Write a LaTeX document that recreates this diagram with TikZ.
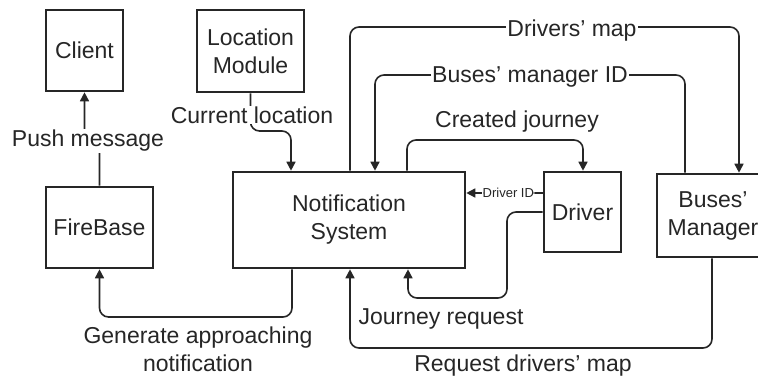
\documentclass[tikz,border=0pt]{standalone}
\usepackage{fontspec}
\setmainfont{Liberation Sans}
\usetikzlibrary{arrows.meta}
\tikzset{
  box/.style={draw, line width=2.6pt, align=center, inner sep=0pt},
  link/.style={line width=1.6pt, rounded corners=9pt},
  arr/.style={link, -{Triangle[length=9pt,width=9pt]}},
  lbl/.style={fill=white, inner sep=1pt, align=center},
  tiny/.style={fill=white, inner sep=0.5pt, font=\fontsize{13}{15}\selectfont},
}
\begin{document}
\begin{tikzpicture}[x=1pt, y=-1pt, color=black!85, font=\fontsize{23}{28}\selectfont]
  \useasboundingbox (0,0) rectangle (758,383);
  % boxes
  \node[box, minimum width=77, minimum height=81] (client) at (84.5,50.5) {Client};
  \node[box, minimum width=107, minimum height=82] (loc) at (250.5,51) {Location\\Module};
  \node[box, minimum width=107, minimum height=81] (fire) at (99.5,227.5) {FireBase};
  \node[box, minimum width=232, minimum height=96] (notif) at (349,220) {Notification\\System};
  \node[box, minimum width=77, minimum height=80] (driver) at (582.5,212) {Driver};
  \node[box, minimum width=112, minimum height=83] (mgr) at (713,215.5) {Buses'\\Manager};

  % connectors
  \draw[arr] (fire.north) -- (99.5,141) -- (84.5,141) -- (client.south);
  \node[lbl] (push) at (88,141) {Push message};

  \draw[arr] (loc.south) -- (250.5,131) -- (291,131) -- (notif.north -| 291,0);
  \node[lbl] (cur) at (252,115) {Current location};

  \draw[arr] (notif.north -| 350,0) -- (350,27) -- (739,27) -- (mgr.north -| 739,0);
  \node[lbl] (dmap) at (572,31) {Drivers' map};
  \draw[arr] (mgr.north -| 685,0) -- (685,75) -- (375,75) -- (notif.north -| 375,0);
  \node[lbl] (mid) at (530,77) {Buses' manager ID};
  \draw[arr] (notif.north -| 407,0) -- (407,140) -- (583,140) -- (driver.north -| 583,0);
  \node[lbl] (created) at (517,122) {Created journey};

  \draw[arr] (driver.west |- 0,193) -- (notif.east |- 0,193)
    node[tiny, pos=0.45] (did) {Driver ID};
  \draw[arr] (driver.west |- 0,212) -- (507,212) -- (507,298) -- (408,298) -- (notif.south -| 408,0);
  \node[lbl] (jreq) at (441,319) {Journey request};

  \draw[arr] (mgr.south -| 712,0) -- (712,348) -- (350,348) -- (notif.south -| 350,0);
  \node[lbl] (reqmap) at (523,366) {Request drivers' map};

  \draw[arr] (notif.south -| 292,0) -- (292,317) -- (99.5,317) -- (fire.south);
  \node[lbl] (gen) at (198,349) {Generate approaching\\notification};
\end{tikzpicture}
\end{document}
